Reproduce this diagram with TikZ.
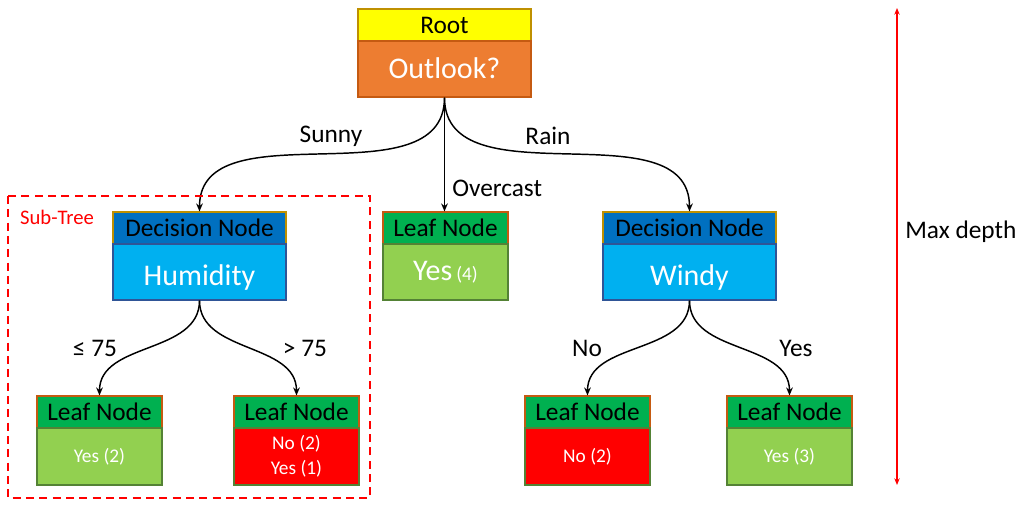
\documentclass[tikz,border=0pt]{standalone}
\usepackage{fontspec}
\setmainfont{Carlito}
\usetikzlibrary{arrows.meta}
\definecolor{cyel}{HTML}{FFFF00}
\definecolor{corg}{HTML}{ED7D31}
\definecolor{cdblue}{HTML}{0070C0}
\definecolor{clblue}{HTML}{00B0F0}
\definecolor{cgreen}{HTML}{00B050}
\definecolor{clgreen}{HTML}{92D050}
\definecolor{cred}{HTML}{FF0000}
\definecolor{cgold}{HTML}{BF9000}
\definecolor{cbrown}{HTML}{C55A11}
\definecolor{cbluebd}{HTML}{2F5597}
\definecolor{cgreenbd}{HTML}{548235}
\tikzset{
  box/.style={draw, line width=0.8pt, inner sep=0pt, align=center},
  wide/.style={minimum width=129.75pt},
  narrow/.style={minimum width=93.75pt},
  hdr/.style={box, minimum height=24pt, font=\fontsize{19}{22}\selectfont, text=black},
  bdy/.style={box, minimum height=42pt, text=white},
  bigtxt/.style={font=\fontsize{22.5}{26}\selectfont, text height=20pt, text depth=0pt},
  smalltxt/.style={font=\fontsize{14.5}{18}\selectfont},
  lbl/.style={font=\fontsize{19}{22}\selectfont, inner sep=0pt},
  arr/.style={line width=1.1pt, -{Stealth[length=6pt,width=5pt]}},
}
\begin{document}
\begin{tikzpicture}[x=0.75pt,y=-0.75pt]
\useasboundingbox (0,0) rectangle (1022,506);
% root
\node[hdr, wide, fill=cyel, draw=cgold] (rooth) at (444.5,25) {Root};
\node[bdy, wide, fill=corg, draw=cbrown, bigtxt, text height=15pt] (rootb) at (444.5,69) {Outlook?};
% humidity
\node[hdr, wide, fill=cdblue, draw=cgold] (humh) at (199.5,228) {Decision Node};
\node[bdy, wide, fill=clblue, draw=cbluebd, bigtxt] (humb) at (199.5,272) {Humidity};
% overcast leaf
\node[hdr, narrow, fill=cgreen, draw=cbrown] (ovh) at (445.5,228) {Leaf Node};
\node[bdy, narrow, fill=clgreen, draw=cgreenbd] (ovb) at (445.5,272) {{\fontsize{22.5}{26}\selectfont Yes}\hspace{3pt}{\fontsize{14.5}{18}\selectfont(4)}};
% windy
\node[hdr, wide, fill=cdblue, draw=cgold] (winh) at (689.5,228) {Decision Node};
\node[bdy, wide, fill=clblue, draw=cbluebd, bigtxt] (winb) at (689.5,272) {Windy};
% bottom leaves
\node[hdr, narrow, fill=cgreen, draw=cbrown] (llh) at (99.5,412) {Leaf Node};
\node[bdy, narrow, fill=clgreen, draw=cgreenbd, smalltxt, minimum height=42.75pt] (llb) at (99.5,456.5) {Yes (2)};
\node[hdr, narrow, fill=cgreen, draw=cbrown] (lrh) at (296.5,412) {Leaf Node};
\node[bdy, narrow, fill=cred, draw=cgreenbd, minimum height=42.75pt, font=\fontsize{14.5}{18.5}\selectfont] (lrb) at (296.5,456.5) {No (2)\\Yes (1)};
\node[hdr, narrow, fill=cgreen, draw=cbrown] (rlh) at (587.5,412) {Leaf Node};
\node[bdy, narrow, fill=cred, draw=cgreenbd, smalltxt, minimum height=42.75pt] (rlb) at (587.5,456.5) {No (2)};
\node[hdr, narrow, fill=cgreen, draw=cbrown] (rrh) at (789.5,412) {Leaf Node};
\node[bdy, narrow, fill=clgreen, draw=cgreenbd, smalltxt, minimum height=42.75pt] (rrb) at (789.5,456.5) {Yes (3)};
% edges
\draw[arr] (rootb.south) to[out=-90,in=90] (humh.north);
\draw[arr] (rootb.south) -- (rootb.south |- ovh.north);
\draw[arr] (rootb.south) to[out=-90,in=90] (winh.north);
\draw[arr] (humb.south) to[out=-90,in=90] (llh.north);
\draw[arr] (humb.south) to[out=-90,in=90] (lrh.north);
\draw[arr] (winb.south) to[out=-90,in=90] (rlh.north);
\draw[arr] (winb.south) to[out=-90,in=90] (rrh.north);
% edge labels
\node[lbl] (lsunny) at (331,136) {Sunny};
\node[lbl] (lrain) at (548,136) {Rain};
\node[lbl, anchor=west] (lover) at (452,188) {Overcast};
\node[lbl] (lle) at (95,348) {≤ 75};
\node[lbl] (lgt) at (305,348) {> 75};
\node[lbl] (lno) at (587,348) {No};
\node[lbl] (lyes) at (796,348) {Yes};
% sub-tree
\draw[cred, line width=0.8pt, dash pattern=on 6pt off 4pt] (8,196) rectangle (370,498);
\node[text=cred, font=\fontsize{15.5}{18}\selectfont, inner sep=0pt] (lsub) at (57,217) {Sub-Tree};
% max depth
\coordinate (mdtop) at (897,8);
\coordinate (mdbot) at (897,485);
\draw[cred, line width=1.4pt, {Stealth[length=5pt,width=4pt]}-{Stealth[length=5pt,width=4pt]}] (mdtop) -- (mdbot);
\node[lbl, anchor=west] (lmax) at (905,232) {Max depth};
\end{tikzpicture}
\end{document}
